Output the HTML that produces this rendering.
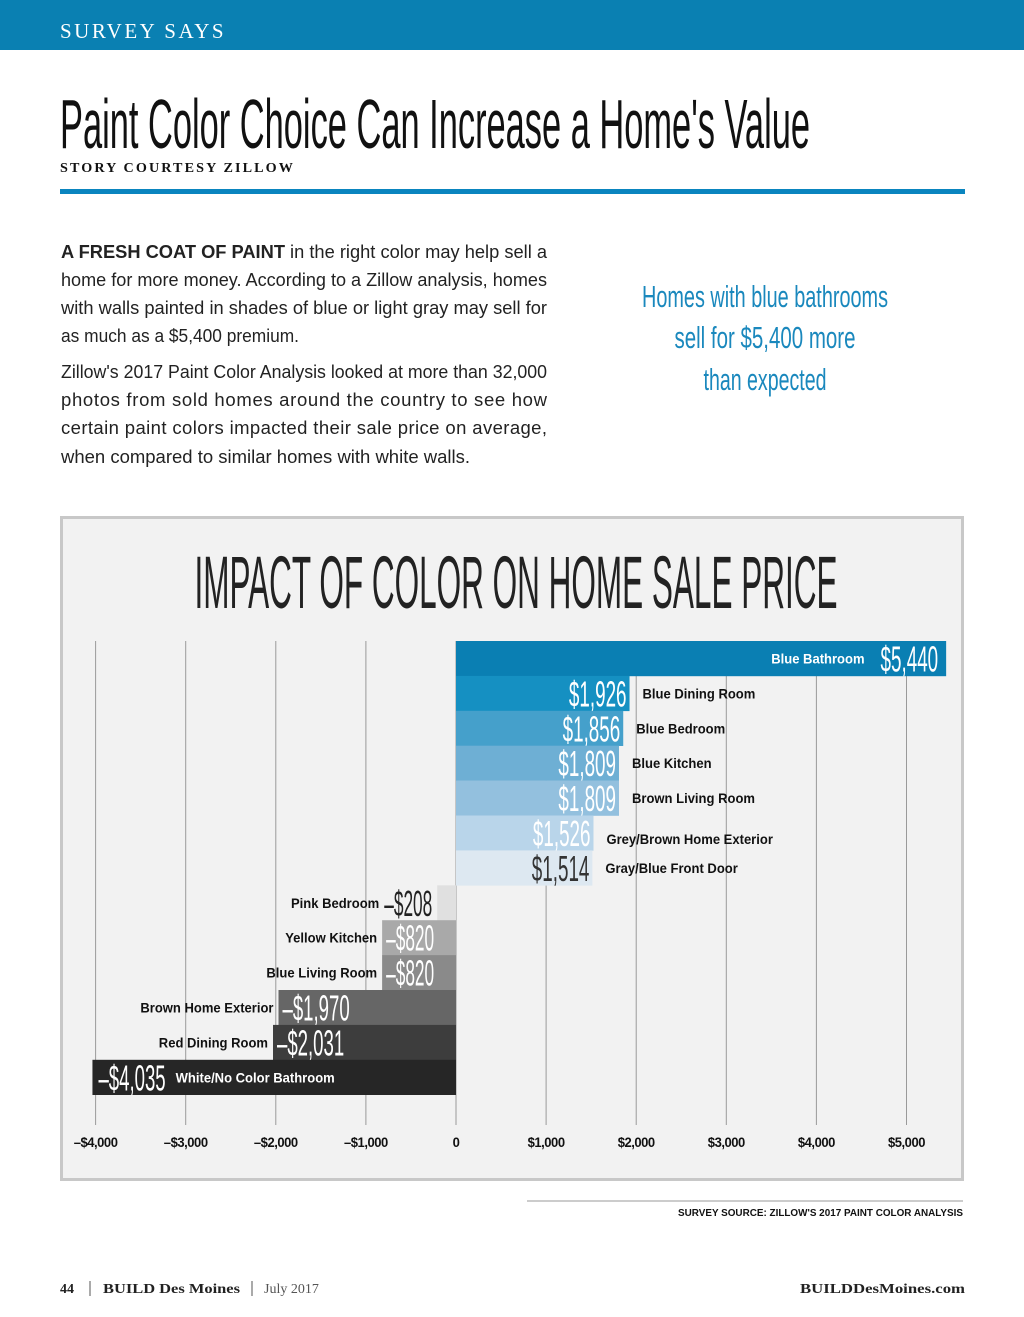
<!DOCTYPE html>
<html><head><meta charset="utf-8"><style>
html,body{margin:0;padding:0;background:#fff;}
svg{display:block;}
text{font-family:"Liberation Sans",sans-serif;}
.serif{font-family:"Liberation Serif",serif;}
</style></head><body>
<svg id="page" width="1024" height="1317" viewBox="0 0 1024 1317" xmlns="http://www.w3.org/2000/svg">
  <rect x="0" y="0" width="1024" height="50" fill="#0a80b2"/>
  <text class="serif" x="60" y="38" font-size="21" fill="#fff" letter-spacing="2.5">SURVEY SAYS</text>
  <text x="60" y="148" font-size="70" fill="#111" textLength="750" lengthAdjust="spacingAndGlyphs">Paint Color Choice Can Increase a Home's Value</text>
  <text class="serif" x="60" y="172" font-size="13.5" font-weight="bold" fill="#111" letter-spacing="2" textLength="235" lengthAdjust="spacingAndGlyphs">STORY COURTESY ZILLOW</text>
  <rect x="60" y="189" width="905" height="5" fill="#0a85bf"/>

  <g fill="#222" font-size="18.5">
    <text x="61" y="258" textLength="486" lengthAdjust="spacingAndGlyphs"><tspan font-weight="bold">A FRESH COAT OF PAINT</tspan> in the right color may help sell a</text>
    <text x="61" y="286" textLength="486" lengthAdjust="spacingAndGlyphs">home for more money. According to a Zillow analysis, homes</text>
    <text x="61" y="314" textLength="486" lengthAdjust="spacingAndGlyphs">with walls painted in shades of blue or light gray may sell for</text>
    <text x="61" y="342" textLength="238" lengthAdjust="spacingAndGlyphs">as much as a $5,400 premium.</text>
    <text x="61" y="378" textLength="486" lengthAdjust="spacingAndGlyphs">Zillow's 2017 Paint Color Analysis looked at more than 32,000</text>
    <text x="61" y="406" textLength="486" lengthAdjust="spacing">photos from sold homes around the country to see how</text>
    <text x="61" y="434" textLength="486" lengthAdjust="spacing">certain paint colors impacted their sale price on average,</text>
    <text x="61" y="463" textLength="409" lengthAdjust="spacingAndGlyphs">when compared to similar homes with white walls.</text>
  </g>

  <g fill="#1a88bd" font-size="31" text-anchor="middle">
    <text x="765" y="307" textLength="246" lengthAdjust="spacingAndGlyphs">Homes with blue bathrooms</text>
    <text x="765" y="348" textLength="181" lengthAdjust="spacingAndGlyphs">sell for $5,400 more</text>
    <text x="765" y="390" textLength="123" lengthAdjust="spacingAndGlyphs">than expected</text>
  </g>

  <rect x="61.5" y="517.5" width="901" height="662" fill="#f2f2f2" stroke="#c8c8c8" stroke-width="3"/>
  <text x="516" y="608" font-size="74" fill="#222" text-anchor="middle" textLength="643" lengthAdjust="spacingAndGlyphs">IMPACT OF COLOR ON HOME SALE PRICE</text>
  <g id="grid"></g>
  <g id="bars"></g>
  <g id="ticks"></g>

  <line x1="527" y1="1201" x2="963" y2="1201" stroke="#999" stroke-width="1"/>
  <text x="963" y="1216" font-size="10" font-weight="bold" fill="#111" text-anchor="end" textLength="285" lengthAdjust="spacingAndGlyphs">SURVEY SOURCE: ZILLOW'S 2017 PAINT COLOR ANALYSIS</text>

  <g class="serif">
    <text class="serif" x="60" y="1293" font-size="14" font-weight="bold" fill="#222">44</text>
    <line x1="90" y1="1281" x2="90" y2="1296" stroke="#555" stroke-width="1"/>
    <text class="serif" x="103" y="1293" font-size="14" font-weight="bold" fill="#222" textLength="137" lengthAdjust="spacingAndGlyphs">BUILD Des Moines</text>
    <line x1="252" y1="1281" x2="252" y2="1296" stroke="#555" stroke-width="1"/>
    <text class="serif" x="264" y="1293" font-size="14" fill="#555">July 2017</text>
    <text class="serif" x="965" y="1293" font-size="14" font-weight="bold" fill="#222" text-anchor="end" textLength="165" lengthAdjust="spacingAndGlyphs">BUILDDesMoines.com</text>
  </g>
</svg>
<script>
const categories = ["Blue Bathroom","Blue Dining Room","Blue Bedroom","Blue Kitchen","Brown Living Room","Grey/Brown Home Exterior","Gray/Blue Front Door","Pink Bedroom","Yellow Kitchen","Blue Living Room","Brown Home Exterior","Red Dining Room","White/No Color Bathroom"];
const values = [5440,1926,1856,1809,1809,1526,1514,-208,-820,-820,-1970,-2031,-4035];
const barColors = ["#0a7fb3","#1590c2","#45a0cb","#6eafd4","#93c0de","#b9d5ea","#dde8f1","#e0e0e0","#a9a9a9","#8a8a8a","#666666","#3d3d3d","#262626"];
const tickValues = [-4000,-3000,-2000,-1000,0,1000,2000,3000,4000,5000];
const tickLabels = ["\u2013$4,000","\u2013$3,000","\u2013$2,000","\u2013$1,000","0","$1,000","$2,000","$3,000","$4,000","$5,000"];

const NS = "http://www.w3.org/2000/svg";
const X0 = 456, SCALE = 0.0901, Y0 = 641, ROW = 34.9;
function xScale(v){ return X0 + v * SCALE; }
function yScale(i){ return Y0 + i * ROW; }
function fmt(v){ const s = "$" + Math.abs(v).toLocaleString("en-US"); return v < 0 ? "\u2013" + s : s; }
function mk(tag, attrs, parent){ const e = document.createElementNS(NS, tag); for (const k in attrs) e.setAttribute(k, attrs[k]); parent.appendChild(e); return e; }
function condense(t, f){ const w = t.getComputedTextLength(); if (w > 0) { t.setAttribute("textLength", (w * f).toFixed(1)); t.setAttribute("lengthAdjust", "spacingAndGlyphs"); } }

const grid = document.getElementById("grid");
const ticks = document.getElementById("ticks");
tickValues.forEach((t, i) => {
  const gl = mk("line", {x1: xScale(t), x2: xScale(t), y1: Y0, y2: 1125, stroke: "#9a9a9a", "stroke-width": 1}, grid);
  
  
  const tl = mk("text", {x: xScale(t), y: 1147, "font-size": 14, "font-weight": "bold", fill: "#111", "text-anchor": "middle", "letter-spacing": "-0.5"}, ticks);
  tl.textContent = tickLabels[i];
  
  
  condense(tl, 0.93);
});

const bars = document.getElementById("bars");
function valW(s){ return s.length * 9.6; }
values.forEach((v, i) => {
  const y = yScale(i), xe = xScale(v);
  const r = mk("rect", {x: Math.min(X0, xe), y: y, width: Math.abs(xe - X0), height: ROW + 0.3, fill: barColors[i]}, bars);
  
  
  const s = fmt(v), w = valW(s), cy = y + ROW / 2;
  let vx, lx, lanchor, vcol = "#fff";
  if (i === 0) { vx = xe - 8 - w; lx = vx - 16; lanchor = "end"; }
  else if (v > 0) { vx = xe - 3 - w; lx = xe + 13; lanchor = "start"; if (i === 6) vcol = "#333"; }
  else if (Math.abs(v) * SCALE < 40) { vx = xe - 5 - w; lx = vx - 5; lanchor = "end"; vcol = "#222"; }
  else if (i === values.length - 1) { vx = xe + 6; lx = vx + w + 10; lanchor = "start"; }
  else { vx = xe + 4; lx = xe - 5; lanchor = "end"; }
  const vt = mk("text", {x: vx, y: cy + 13, "font-size": 36, fill: vcol, textLength: w, lengthAdjust: "spacingAndGlyphs"}, bars);
  vt.textContent = s;
  
  
  const lt = mk("text", {x: lx, y: cy + 5 + (i === 5 ? 6 : 0), "font-size": 14, "font-weight": "bold", fill: i === 0 || i === 12 ? "#fff" : "#111", "text-anchor": lanchor}, bars);
  lt.textContent = categories[i];
  
  
  condense(lt, 0.93);
});
</script>
</body></html>
